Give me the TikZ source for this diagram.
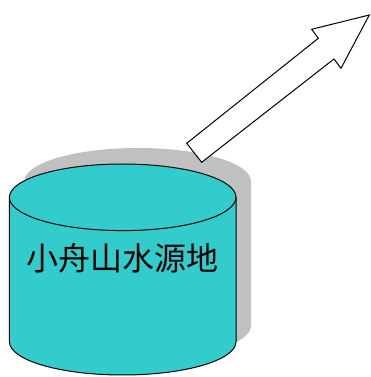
\documentclass[tikz,border=0pt]{standalone}
\usepackage{fontspec}
\newfontfamily\cjk{Noto Sans CJK SC}
\definecolor{watercyan}{HTML}{33CCCC}
\definecolor{shadowgray}{HTML}{C0C0C0}
\begin{document}
\begin{tikzpicture}[x=1pt,y=1pt,
  outline/.style={draw=black,line width=1pt,line join=miter},
  label/.style={font=\cjk\fontsize{32}{34}\selectfont,inner sep=0pt}]
\useasboundingbox (0,0) rectangle (370,377);
% shadow cylinder
\begin{scope}[shift={(15,16)}]
  \fill[shadowgray] (9.4,179.7) -- (9.4,35.3)
    arc[start angle=180,end angle=360,x radius=113.3,y radius=33.3]
    -- (236,179.7) arc[start angle=0,end angle=180,x radius=113.3,y radius=33.3] -- cycle;
\end{scope}
% hollow arrow
\filldraw[outline,fill=white] (186.7,233.7) -- (201.7,214.7) -- (334,318) -- (341,308.7)
  -- (369.3,362) -- (311.7,347.7) -- (318.3,338.7) -- cycle;
% cylinder body
\filldraw[outline,fill=watercyan] (9.4,179.7) -- (9.4,35.3)
  arc[start angle=180,end angle=360,x radius=113.3,y radius=33.3]
  -- (236,179.7) -- cycle;
% cylinder top
\filldraw[outline,fill=watercyan] (122.7,179.7) ellipse[x radius=113.3,y radius=33.3];
\node[label] (name) at (122.5,119) {小舟山水源地};
\end{tikzpicture}
\end{document}
